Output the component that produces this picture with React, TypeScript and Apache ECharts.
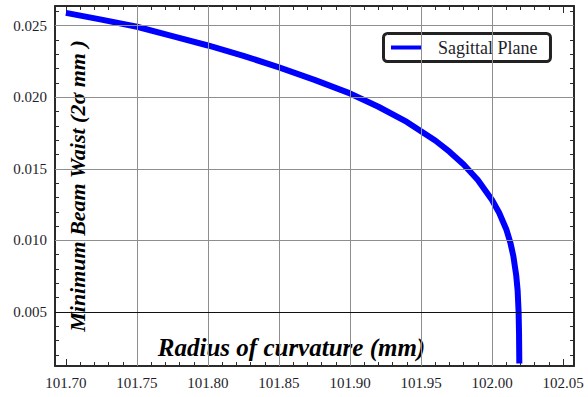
import React, { useEffect, useRef } from "react";
import * as echarts from "echarts";

// Curve (radius of curvature in mm, minimum beam waist in mm)
const radius = [
  101.7, 101.725, 101.75, 101.775, 101.8, 101.825, 101.85, 101.875, 101.9, 101.92,
  101.94, 101.95, 101.96, 101.97, 101.98, 101.99, 102.0, 102.005, 102.01, 102.013,
  102.015, 102.017, 102.018, 102.0187, 102.019, 102.0192,
];
const waist = [
  0.0259, 0.02543, 0.02493, 0.02428, 0.02362, 0.0229, 0.02209, 0.02122, 0.02027, 0.01934,
  0.01828, 0.01762, 0.01698, 0.0162, 0.0153, 0.01422, 0.01282, 0.01193, 0.01078, 0.0098,
  0.0089, 0.00757, 0.00652, 0.005, 0.0035, 0.0014,
];

const xTickLabels = [101.7, 101.75, 101.8, 101.85, 101.9, 101.95, 102.0, 102.05];
const yTickLabels = [0.005, 0.01, 0.015, 0.02, 0.025];
const xGridLines = [101.75, 101.8, 101.85, 101.9, 101.95, 102.0];
const yGridLinesGrey = [0.01, 0.015, 0.02, 0.025];
const yGridLinesDark = [0.005];

const seriesName = "Sagittal Plane";
const xTitle = "Radius of curvature (mm)";
const yTitle = "Minimum Beam Waist (2σ mm )";

const X_MIN = 101.6923;
const X_MAX = 102.0577;
const Y_MIN = 0.00122;
const Y_MAX = 0.02638;

const FRAME = "#2a2a2a";
const TEXT = "#1e1e2a";
const SERIF = "Liberation Serif";

const isIn = (arr: number[], v: number) => arr.some((t) => Math.abs(t - v) < 1e-7);

export default function App() {
  const ref = useRef<HTMLDivElement>(null);

  useEffect(() => {
    if (!ref.current) return;
    const chart = echarts.init(ref.current, undefined, { renderer: "svg" });

    const data = radius.map((r, i) => [r, waist[i]]);

    const frameAxis = {
      axisLine: { show: true, onZero: false, lineStyle: { color: FRAME, width: 2 } },
      axisTick: { show: true, inside: true, length: 7, lineStyle: { color: FRAME, width: 1 } },
      minorTick: { show: true, splitNumber: 5, length: 4, lineStyle: { color: FRAME, width: 1 } },
      splitLine: { show: false },
      minorSplitLine: { show: false },
      axisPointer: { show: false },
    };

    const vLine = (v: number) => [{ coord: [v, Y_MIN] }, { coord: [v, Y_MAX] }];
    const hLine = (v: number) => [{ coord: [X_MIN, v] }, { coord: [X_MAX, v] }];

    const gridSeries = (name: string, marks: any[], color: string, z: number) => ({
      name,
      type: "line",
      data,
      showSymbol: false,
      symbol: "none",
      silent: true,
      z,
      lineStyle: { opacity: 0, width: 0 },
      markLine: {
        silent: true,
        symbol: ["none", "none"],
        label: { show: false },
        emphasis: { disabled: true },
        animation: false,
        lineStyle: { color, width: 1, type: "solid" },
        data: marks,
      },
    });

    chart.setOption({
      animation: false,
      backgroundColor: "#ffffff",
      textStyle: { fontFamily: SERIF },
      grid: { left: 55, right: 14, top: 6, bottom: 31, containLabel: false },
      legend: {
        left: 383.5,
        top: 33.5,
        orient: "horizontal",
        data: [{ name: seriesName, icon: "rect" }],
        itemWidth: 30,
        itemHeight: 4,
        padding: [5, 13, 5, 7.5],
        borderColor: "#222",
        borderWidth: 3,
        borderRadius: 4,
        backgroundColor: "#ffffff",
        selectedMode: false,
        textStyle: {
          fontFamily: SERIF,
          fontSize: 18,
          color: TEXT,
          padding: [0, 0, 0, 12],
          lineHeight: 18,
        },
      },
      xAxis: [
        {
          type: "value",
          position: "bottom",
          min: X_MIN,
          max: X_MAX,
          splitNumber: 7,
          ...frameAxis,
          axisLabel: {
            margin: 9,
            fontFamily: SERIF,
            fontSize: 15,
            color: TEXT,
            formatter: (v: number) => (isIn(xTickLabels, v) ? v.toFixed(2) : ""),
          },
          name: xTitle,
          nameLocation: "middle",
          nameGap: -31,
          nameTextStyle: {
            fontFamily: SERIF,
            fontWeight: "bold",
            fontStyle: "italic",
            fontSize: 25,
            color: "#000",
            padding: [0, 46, 0, 0],
          },
        },
        {
          type: "value",
          position: "top",
          min: X_MIN,
          max: X_MAX,
          splitNumber: 7,
          ...frameAxis,
          axisLabel: { show: false },
        },
      ],
      yAxis: [
        {
          type: "value",
          position: "left",
          min: Y_MIN,
          max: Y_MAX,
          splitNumber: 5,
          ...frameAxis,
          axisLabel: {
            margin: 8,
            fontFamily: SERIF,
            fontSize: 15,
            color: TEXT,
            formatter: (v: number) => (isIn(yTickLabels, v) ? v.toFixed(3) : ""),
          },
          name: yTitle,
          nameLocation: "middle",
          nameGap: -33,
          nameTextStyle: {
            fontFamily: SERIF,
            fontWeight: "bold",
            fontStyle: "italic",
            fontSize: 22,
            color: "#000",
          },
        },
        {
          type: "value",
          position: "right",
          min: Y_MIN,
          max: Y_MAX,
          splitNumber: 5,
          ...frameAxis,
          axisLabel: { show: false },
        },
      ],
      series: [
        gridSeries(
          "gridGrey",
          [...xGridLines.map(vLine), ...yGridLinesGrey.map(hLine)],
          "#8e8e8e",
          1
        ),
        gridSeries("gridDark", yGridLinesDark.map(hLine), "#111111", 2),
        {
          name: seriesName,
          type: "line",
          data,
          symbol: "none",
          showSymbol: false,
          z: 3,
          color: "#0000ff",
          lineStyle: { color: "#0000ff", width: 6, join: "round", cap: "butt" },
        },
      ],
    });

    return () => chart.dispose();
  }, []);

  return (
    <div
      ref={ref}
      style={{ position: "fixed", left: 0, top: 0, width: 588, height: 397, background: "#fff" }}
    />
  );
}
